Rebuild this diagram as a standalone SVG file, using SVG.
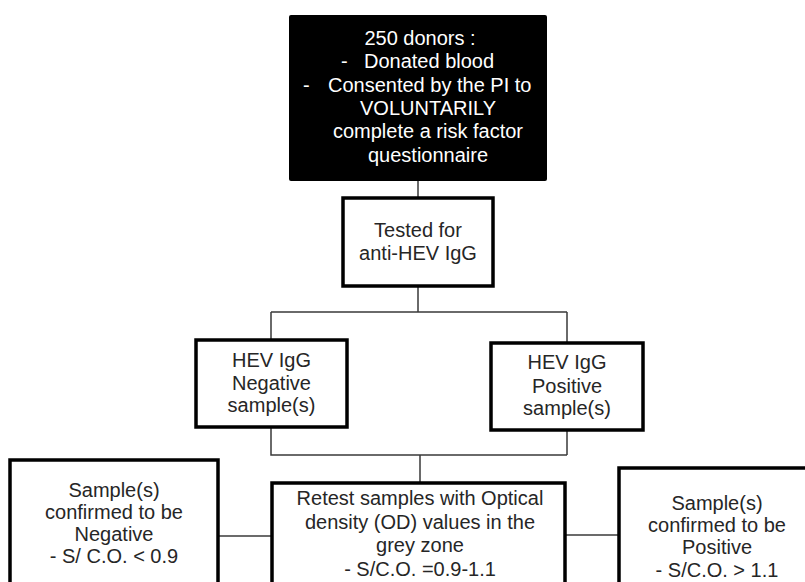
<svg xmlns="http://www.w3.org/2000/svg" width="805" height="582" viewBox="0 0 805 582">
<style>
.box{fill:#fff;stroke:#000;stroke-width:3.5}
.t{font-family:"Liberation Sans",Arial,sans-serif;font-size:20px;fill:#262626;text-anchor:middle}
.w{fill:#fff}
.ts{text-anchor:start}
.c{fill:none;stroke:#3a3a3a;stroke-width:1.5}
</style>
<rect width="805" height="582" fill="#fff"/>
<g id="connectors">
<path class="c" d="M418 181V198"/>
<path class="c" d="M418 286V312M271 312H567M271 312V340M567 312V343"/>
<path class="c" d="M271 427V455H567M567 430V455M420 455V483"/>
<path class="c" d="M218 536H272"/>
<path class="c" d="M565 535H619"/>
</g>
<g id="donors">
<rect x="289" y="15" width="258" height="166" rx="2" fill="#000"/>
<text class="t w" x="420" y="45">250 donors :</text>
<text class="t w ts" x="341" y="68">-</text>
<text class="t w ts" x="364" y="68">Donated blood</text>
<text class="t w ts" x="303" y="92">-</text>
<text class="t w ts" x="328" y="92">Consented by the PI to</text>
<text class="t w" x="428" y="115">VOLUNTARILY</text>
<text class="t w" x="428" y="138">complete a risk factor</text>
<text class="t w" x="428" y="162">questionnaire</text>
</g>
<g id="tested">
<rect class="box" x="343" y="198" width="150" height="88"/>
<text class="t" x="418" y="237">Tested for</text>
<text class="t" x="418" y="260">anti-HEV IgG</text>
</g>
<g id="negative">
<rect class="box" x="196" y="340" width="151" height="87"/>
<text class="t" x="271.5" y="367">HEV IgG</text>
<text class="t" x="271.5" y="390">Negative</text>
<text class="t" x="271.5" y="412">sample(s)</text>
</g>
<g id="positive">
<rect class="box" x="491" y="343" width="152" height="87"/>
<text class="t" x="567" y="369">HEV IgG</text>
<text class="t" x="567" y="393">Positive</text>
<text class="t" x="567" y="415">sample(s)</text>
</g>
<g id="confirmed-negative">
<rect class="box" x="10" y="460" width="208" height="140"/>
<text class="t" x="114" y="497">Sample(s)</text>
<text class="t" x="114" y="519">confirmed to be</text>
<text class="t" x="114" y="541">Negative</text>
<text class="t" x="114" y="563">- S/ C.O. &lt; 0.9</text>
</g>
<g id="retest">
<rect class="box" x="272" y="483" width="293" height="120"/>
<text class="t" x="420" y="505">Retest samples with Optical</text>
<text class="t" x="420" y="529">density (OD) values in the</text>
<text class="t" x="420" y="552">grey zone</text>
<text class="t" x="420" y="576">-  S/C.O. =0.9-1.1</text>
</g>
<g id="confirmed-positive">
<rect class="box" x="619" y="468" width="200" height="140"/>
<text class="t" x="717" y="510">Sample(s)</text>
<text class="t" x="717" y="532">confirmed to be</text>
<text class="t" x="717" y="554">Positive</text>
<text class="t" x="717" y="577">- S/C.O. &gt; 1.1</text>
</g>
</svg>
